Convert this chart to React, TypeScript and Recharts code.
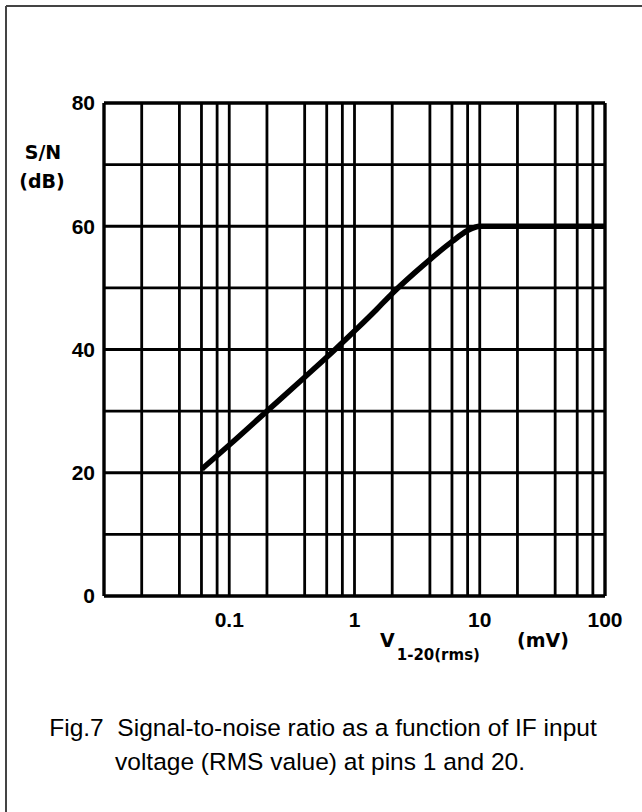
import React from "react";
import { LineChart, Line, XAxis, YAxis, CartesianGrid, ReferenceLine } from "recharts";

const inputMv = [0.062, 0.1, 0.2, 0.4, 0.7, 1, 1.5, 2, 3, 4, 6, 8, 10, 20, 100];
const snDb = [20.8, 24.5, 30, 35.5, 40, 43, 46.5, 49.1, 52.4, 54.6, 57.5, 59.3, 60, 60, 60];

const xTicks = [0.01, 0.02, 0.04, 0.06, 0.08, 0.1, 0.2, 0.4, 0.6, 0.8, 1, 2, 4, 6, 8, 10, 20, 40, 60, 80, 100];
const xLabeled = [0.1, 1, 10, 100];
const yTicks = [0, 10, 20, 30, 40, 50, 60, 70, 80];
const yLabeled = [0, 20, 40, 60, 80];

const data = inputMv.map((v, i) => ({ v, sn: snDb[i] }));

const tickFont = { fontFamily: "'Liberation Sans', Arial, sans-serif", fontWeight: 700, fontSize: 21, fill: "#000" };

export default function App() {
  return (
    <div style={{ position: "absolute", left: 0, top: 0, width: 642, height: 812, background: "#fff" }}>
      <LineChart
        width={642}
        height={812}
        data={data}
        margin={{ top: 103, right: 37, bottom: 176, left: 44 }}
      >
        <CartesianGrid stroke="#000" strokeWidth={2.8} fill="none" />
        <XAxis
          dataKey="v"
          type="number"
          scale="log"
          domain={[0.01, 100]}
          ticks={xTicks}
          allowDataOverflow
          interval={0}
          height={40}
          tickLine={false}
          axisLine={{ stroke: "#000", strokeWidth: 3 }}
          tickSize={8}
          tickMargin={8}
          tick={tickFont}
          tickFormatter={(t: number) => (xLabeled.includes(t) ? String(t) : "")}
        />
        <YAxis
          type="number"
          domain={[0, 80]}
          ticks={yTicks}
          interval={0}
          width={60}
          tickLine={false}
          axisLine={{ stroke: "#000", strokeWidth: 3 }}
          tickSize={5}
          tickMargin={4}
          tick={tickFont}
          tickFormatter={(t: number) => (yLabeled.includes(t) ? String(t) : "")}
        />
        <ReferenceLine x={100} stroke="#000" strokeWidth={3} />
        <ReferenceLine y={80} stroke="#000" strokeWidth={3} />
        <Line
          dataKey="sn"
          type="monotone"
          stroke="#000"
          strokeWidth={5.5}
          strokeLinecap="round"
          dot={false}
          isAnimationActive={false}
        />
      </LineChart>
      <svg
        width={642}
        height={812}
        style={{ position: "absolute", left: 0, top: 0, pointerEvents: "none" }}
      >
        <line x1={6} y1={6} x2={642} y2={6} stroke="#444" strokeWidth={2} />
        <line x1={6} y1={6} x2={6} y2={812} stroke="#444" strokeWidth={2} />
        <g fontFamily="'DejaVu Sans', sans-serif" fontWeight={700} fill="#000">
          <text x={43} y={159} fontSize={19} textAnchor="middle">S/N</text>
          <text x={42} y={188} fontSize={19} textAnchor="middle">(dB)</text>
          <text x={380} y={647} fontSize={19}>
            V
            <tspan dx={2} dy={13} fontSize={15}>1-20(rms)</tspan>
          </text>
          <text x={517} y={647} fontSize={19}>(mV)</text>
        </g>
        <g fontFamily="'Liberation Sans', Arial, sans-serif" fontSize={24.5} fill="#000" textAnchor="middle">
          <text x={323} y={736} xmlSpace="preserve">Fig.7  Signal-to-noise ratio as a function of IF input</text>
          <text x={320} y={770}>voltage (RMS value) at pins 1 and 20.</text>
        </g>
      </svg>
    </div>
  );
}
